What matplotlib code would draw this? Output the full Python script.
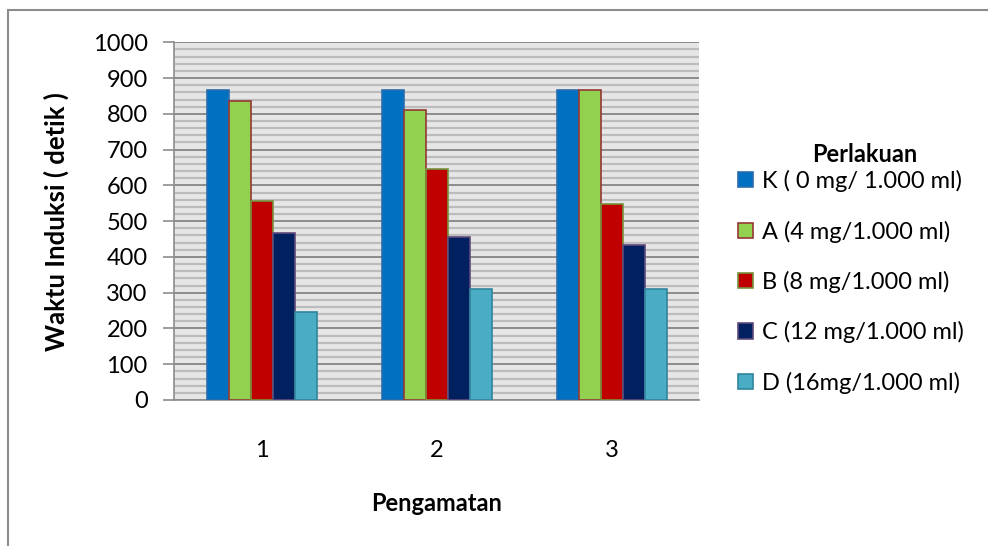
import numpy as np
import matplotlib.pyplot as plt
from matplotlib.patches import Rectangle

plt.rcParams['font.family'] = ['Lato', 'DejaVu Sans']

# data: waktu induksi (detik) per pengamatan
pengamatan = ['1', '2', '3']
labels = ['K ( 0 mg/ 1.000 ml)', 'A (4 mg/1.000 ml)', 'B (8 mg/1.000 ml)',
          'C (12 mg/1.000 ml)', 'D (16mg/1.000 ml)']
k_vals = [868, 868, 868]
a_vals = [835, 810, 866]
b_vals = [556, 647, 547]
c_vals = [468, 455, 434]
d_vals = [246, 309, 309]

series = [k_vals, a_vals, b_vals, c_vals, d_vals]
fills = ['#0070c0', '#92d050', '#c00000', '#002060', '#4bacc6']
edges = ['#2a6db0', '#953735', '#77933c', '#604a7b', '#31859c']

fig = plt.figure(figsize=(9.88, 5.46), dpi=100)
ax = fig.add_axes([174/988, 1-400/546, 525/988, 357.7/546])

ax.set_facecolor('#e6e6e6')
ax.set_axisbelow(True)

x = np.arange(len(pengamatan)) + 0.5
w = 22/175
for i, vals in enumerate(series):
    ax.bar(x + (i-2)*w, vals, width=w, color=fills[i], edgecolor=edges[i],
           linewidth=1.2, label=labels[i], zorder=3)

ax.set_xlim(0, 3)
ax.set_ylim(0, 1000)
ax.set_yticks(range(0, 1001, 100))
ax.set_yticks(range(0, 1001, 20), minor=True)
ax.yaxis.grid(True, which='minor', color='#bcbcbc', lw=1.6)
ax.yaxis.grid(True, which='major', color='#8c8c8c', lw=1.4)
ax.set_xticks(x)
ax.set_xticklabels(pengamatan)

ax.tick_params(axis='y', which='major', length=8, color='#8c8c8c', width=1.2,
               labelsize=17, pad=11)
ax.tick_params(axis='y', which='minor', length=0)
ax.tick_params(axis='x', length=0, labelsize=17, pad=29)

for s in ['top', 'right']:
    ax.spines[s].set_visible(False)
for s in ['left', 'bottom']:
    ax.spines[s].set_color('#8c8c8c')
    ax.spines[s].set_linewidth(1.2)

ax.set_ylabel('Waktu Induksi ( detik )', fontsize=18.5, fontweight='bold')
ax.yaxis.set_label_coords(-105/525, 0.50)
ax.set_xlabel('Pengamatan', fontsize=17, fontweight='bold', labelpad=22)

fig.text(865/988, 1-155/546, 'Perlakuan', ha='center', va='center',
         fontsize=17, fontweight='bold')
fig.legend(loc='upper left', bbox_to_anchor=(738/988, 1-170/546),
           frameon=False, fontsize=17,
           handlelength=0.62, handleheight=0.62, handletextpad=0.4,
           labelspacing=1.2, borderpad=0, borderaxespad=0)

# outer chart border
fig.patches.append(Rectangle((8/988, -0.05), 1.05, 1-10/546+0.05,
                             transform=fig.transFigure, fill=False,
                             edgecolor='#8c8c8c', lw=1.5))

fig.savefig('out.png', dpi=100)
